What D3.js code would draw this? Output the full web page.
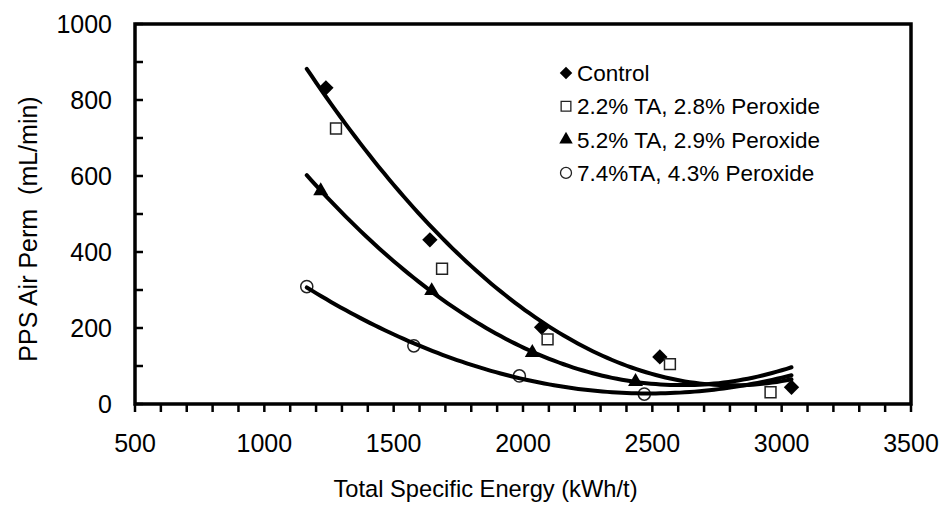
<!DOCTYPE html>
<html><head><meta charset="utf-8">
<script src="https://cdn.jsdelivr.net/npm/d3@7"></script>
<style>
html,body{margin:0;padding:0;background:#fff;}
svg text{font-family:"Liberation Sans",Arial,sans-serif;fill:#000;}
</style></head>
<body><svg id="chart" width="945" height="510"></svg>
<script>
// ---- data ----
const seriesNames = ["Control", "2.2% TA, 2.8% Peroxide", "5.2% TA, 2.9% Peroxide", "7.4%TA, 4.3% Peroxide"];
const energyControl = [1238, 1640, 2072, 2529, 3038];
const permControl   = [832, 432, 202, 124, 44];
const energy22 = [1277, 1687, 2095, 2568, 2957];
const perm22   = [725, 356, 170, 105, 31];
const energy52 = [1218, 1647, 2036, 2435];
const perm52   = [561, 298, 135, 59];
const energy74 = [1164, 1578, 1986, 2469];
const perm74   = [309, 153, 74, 26];
const xTicks = [500, 1000, 1500, 2000, 2500, 3000, 3500];
const yTicks = [0, 200, 400, 600, 800, 1000];
const xTitle = "Total Specific Energy (kWh/t)";
const yTitle = "PPS Air Perm\u00a0\u00a0(mL/min)";

const svg = d3.select("#chart");
const L = 135, R = 911, T = 24, B = 404;
const x = d3.scaleLinear().domain([500, 3500]).range([L, R]);
const y = d3.scaleLinear().domain([0, 1000]).range([B, T]);

const series = [
  {name: seriesNames[0], xs: energyControl, ys: permControl, sym: d3.symbolDiamond2, size: 150, lsize: 100, fill: "#000", stroke: "none", trend: true},
  {name: seriesNames[1], xs: energy22, ys: perm22, sym: d3.symbolSquare2, size: 150, lsize: 120, fill: "#fff", stroke: "#222", trend: false},
  {name: seriesNames[2], xs: energy52, ys: perm52, sym: d3.symbolTriangle2, size: 160, lsize: 130, fill: "#000", stroke: "none", trend: true},
  {name: seriesNames[3], xs: energy74, ys: perm74, sym: d3.symbolCircle, size: 115, lsize: 95, fill: "#fff", stroke: "#222", trend: true}
];

// quadratic least-squares fit (polynomial trendline)
function quadFit(xs, ys) {
  const u = xs.map(v => v / 1000);
  let S = [0,0,0,0,0], Sy = [0,0,0];
  u.forEach((t, i) => {
    for (let k = 0; k < 5; k++) S[k] += Math.pow(t, k);
    for (let k = 0; k < 3; k++) Sy[k] += ys[i] * Math.pow(t, k);
  });
  const A = [[S[0],S[1],S[2],Sy[0]],[S[1],S[2],S[3],Sy[1]],[S[2],S[3],S[4],Sy[2]]];
  for (let c = 0; c < 3; c++) {
    for (let r = c + 1; r < 3; r++) {
      const f = A[r][c] / A[c][c];
      for (let k = c; k < 4; k++) A[r][k] -= f * A[c][k];
    }
  }
  const co = [0,0,0];
  for (let r = 2; r >= 0; r--) {
    let s = A[r][3];
    for (let k = r + 1; k < 3; k++) s -= A[r][k] * co[k];
    co[r] = s / A[r][r];
  }
  return v => { const t = v / 1000; return co[0] + co[1]*t + co[2]*t*t; };
}

const allX = [].concat(energyControl, energy22, energy52, energy74);
const [x0, x1] = d3.extent(allX);

// ticks: x every 100 outward, y every 100 inward
const g = svg.append("g");
d3.range(500, 3501, 100).forEach(v => {
  g.append("line").attr("x1", x(v)).attr("x2", x(v)).attr("y1", B).attr("y2", B + 8)
    .attr("stroke", "#000").attr("stroke-width", 2.5);
});
d3.range(0, 1001, 100).forEach(v => {
  g.append("line").attr("x1", L).attr("x2", L + 8).attr("y1", y(v)).attr("y2", y(v))
    .attr("stroke", "#000").attr("stroke-width", 2.5);
});

// markers
series.forEach(s => {
  svg.append("g").selectAll("path").data(s.xs).join("path")
    .attr("transform", (d, i) => `translate(${x(d)},${y(s.ys[i])})`)
    .attr("d", d3.symbol().type(s.sym).size(s.size))
    .attr("fill", s.fill).attr("stroke", s.stroke).attr("stroke-width", 1.5);
});

// trendlines
series.filter(s => s.trend).forEach(s => {
  const f = quadFit(s.xs, s.ys);
  const pts = d3.range(0, 101).map(i => x0 + (x1 - x0) * i / 100);
  svg.append("path")
    .attr("d", d3.line().x(v => x(v)).y(v => y(f(v)))(pts))
    .attr("fill", "none").attr("stroke", "#000").attr("stroke-width", 4).attr("stroke-linecap", "round");
});

// frame
svg.append("path").attr("d", `M${L},${T}H${R}V${B}H${L}Z`)
  .attr("fill", "none").attr("stroke", "#000").attr("stroke-width", 3.5);

// tick labels
svg.append("g").selectAll("text").data(xTicks).join("text")
  .attr("x", d => x(d)).attr("y", 452).attr("text-anchor", "middle")
  .attr("font-size", 25).text(d => d);
svg.append("g").selectAll("text").data(yTicks).join("text")
  .attr("x", 112).attr("y", d => y(d) + 9).attr("text-anchor", "end")
  .attr("font-size", 25).text(d => d);

// axis titles
svg.append("text").attr("x", 485.5).attr("y", 497).attr("text-anchor", "middle")
  .attr("font-size", 23.7).text(xTitle);
svg.append("text").attr("transform", `translate(37,229) rotate(-90)`).attr("text-anchor", "middle")
  .attr("font-size", 25).text(yTitle);

// legend
const lg = svg.append("g");
series.forEach((s, i) => {
  const cy = 73 + i * 33.3;
  lg.append("path").attr("transform", `translate(566,${cy})`)
    .attr("d", d3.symbol().type(s.sym).size(s.lsize))
    .attr("fill", s.fill).attr("stroke", s.stroke).attr("stroke-width", 1.3);
  lg.append("text").attr("x", 577).attr("y", cy + 8).attr("font-size", 22.5).text(s.name);
});
</script></body></html>
